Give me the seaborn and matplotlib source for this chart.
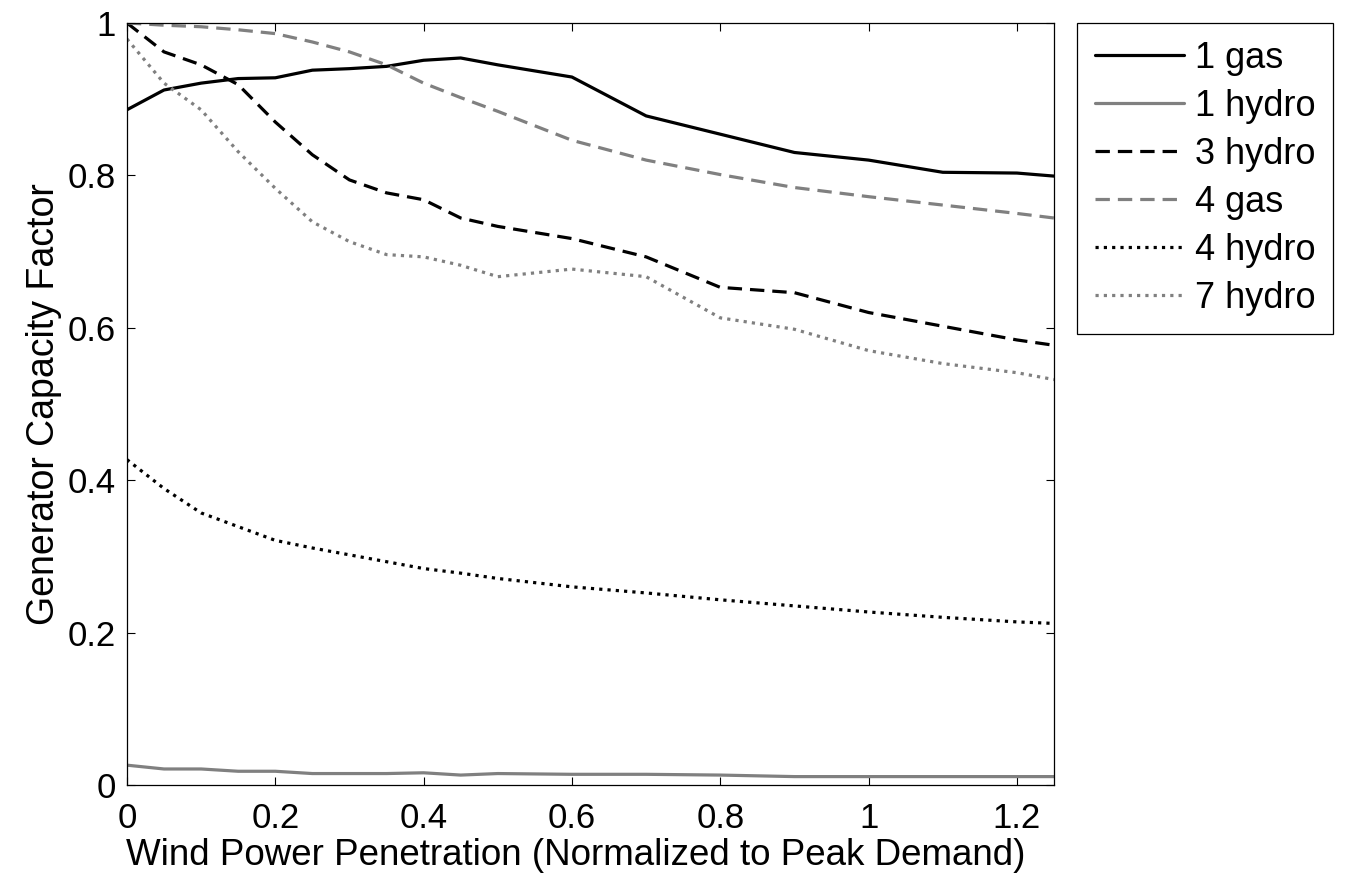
import matplotlib
matplotlib.use("Agg")
import matplotlib.pyplot as plt
from matplotlib.ticker import FuncFormatter
import seaborn as sns

sns.set_style("ticks")
plt.rcParams['font.family'] = ['Liberation Sans', 'DejaVu Sans']
plt.rcParams['text.color'] = 'black'
plt.rcParams['axes.labelcolor'] = 'black'

# penetration levels (normalised to peak demand)
penetration = [0, 0.05, 0.1, 0.15, 0.2, 0.25, 0.3, 0.35, 0.4, 0.45, 0.5,
               0.6, 0.7, 0.8, 0.9, 1.0, 1.1, 1.2, 1.25]

gas_1 = [0.886, 0.912, 0.921, 0.927, 0.928, 0.938, 0.940, 0.943, 0.951, 0.954, 0.945,
         0.929, 0.878, 0.854, 0.830, 0.820, 0.804, 0.803, 0.799]
hydro_1 = [0.026, 0.021, 0.021, 0.018, 0.018, 0.015, 0.015, 0.015, 0.016, 0.013, 0.015,
           0.014, 0.014, 0.013, 0.011, 0.011, 0.011, 0.011, 0.011]
hydro_3 = [1.0, 0.962, 0.945, 0.919, 0.870, 0.827, 0.794, 0.777, 0.768, 0.744, 0.733,
           0.717, 0.693, 0.653, 0.646, 0.620, 0.602, 0.584, 0.577]
gas_4 = [1.0, 0.997, 0.995, 0.991, 0.986, 0.975, 0.962, 0.945, 0.921, 0.902, 0.884,
         0.846, 0.820, 0.801, 0.784, 0.772, 0.761, 0.750, 0.744]
hydro_4 = [0.427, 0.389, 0.357, 0.339, 0.321, 0.311, 0.302, 0.293, 0.284, 0.278, 0.271,
           0.260, 0.252, 0.243, 0.235, 0.227, 0.220, 0.214, 0.212]
hydro_7 = [0.979, 0.921, 0.886, 0.831, 0.783, 0.739, 0.713, 0.696, 0.693, 0.682, 0.667,
           0.677, 0.667, 0.613, 0.598, 0.570, 0.553, 0.541, 0.532]

labels = ['1 gas', '1 hydro', '3 hydro', '4 gas', '4 hydro', '7 hydro']
series = [gas_1, hydro_1, hydro_3, gas_4, hydro_4, hydro_7]

GRAY = '#808080'
styles = [
    ('black', '-'),
    (GRAY, '-'),
    ('black', (0, (4.5, 2.5))),
    (GRAY, (0, (4.5, 2.5))),
    ('black', (0, (1, 1.6))),
    (GRAY, (0, (1, 1.6))),
]

fig = plt.figure(figsize=(13.59, 8.82), dpi=100)
ax = fig.add_axes([0.0934, 0.110, 0.6822, 0.864])

for lab, vals, (col, ls) in zip(labels, series, styles):
    sns.lineplot(x=penetration, y=vals, ax=ax, color=col, linestyle=ls,
                 linewidth=2.3, label=lab)

ax.set_xlim(0, 1.25)
ax.set_ylim(0, 1)
ax.set_xticks([0, 0.2, 0.4, 0.6, 0.8, 1.0, 1.2])
ax.set_yticks([0, 0.2, 0.4, 0.6, 0.8, 1.0])
fmt = FuncFormatter(lambda v, p: '%g' % round(v, 2))
ax.xaxis.set_major_formatter(fmt)
ax.yaxis.set_major_formatter(fmt)
ax.tick_params(direction='in', length=6, width=0.8, top=True, right=True,
               labelsize=25, colors='black')
ax.tick_params(axis='x', pad=12)
ax.tick_params(axis='y', pad=8)
for s in ax.spines.values():
    s.set_visible(True)
    s.set_linewidth(0.9)
    s.set_color('black')

ax.set_xlabel('Wind Power Penetration (Normalized to Peak Demand)', fontsize=26.5, color='black')
ax.set_ylabel('Generator Capacity Factor', fontsize=27, labelpad=4, color='black')
ax.xaxis.set_label_coords(0.484, -0.069)

leg = ax.legend(loc='upper left', bbox_to_anchor=(1.025, 1.0), borderaxespad=0,
                fontsize=26, frameon=True, fancybox=False, handlelength=2.45,
                handletextpad=0.3, labelspacing=0.36, borderpad=0.5)
leg.get_frame().set_edgecolor('black')
leg.get_frame().set_linewidth(0.9)
leg.get_frame().set_alpha(1)
for t in leg.get_texts():
    t.set_color('black')

fig.savefig('out.png', dpi=100)
